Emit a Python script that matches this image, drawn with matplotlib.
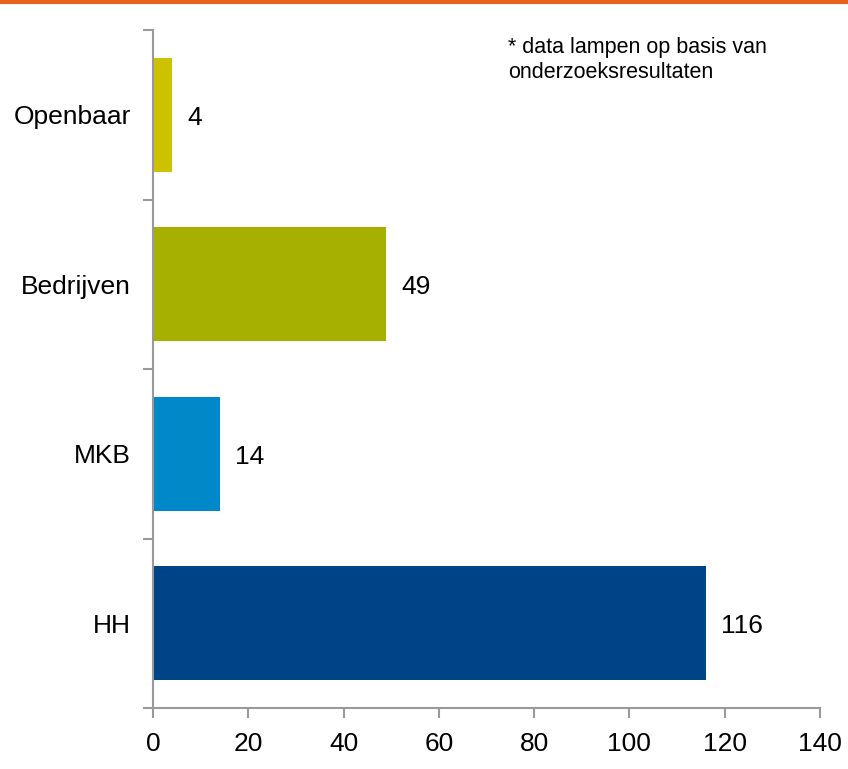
import matplotlib
matplotlib.use("Agg")
import matplotlib.pyplot as plt
from matplotlib.lines import Line2D

categories = ["HH", "MKB", "Bedrijven", "Openbaar"]
values = [116, 14, 49, 4]
colors = ["#004488", "#0088C8", "#A5B000", "#CCC200"]
xticks = [0, 20, 40, 60, 80, 100, 120, 140]

plt.rcParams['font.family'] = ['Liberation Sans', 'DejaVu Sans']
FS = 19

fig = plt.figure(figsize=(8.48, 7.69), dpi=100)
ax = fig.add_axes([153/848, 1-708/769, (820-153)/848, (708-30)/769])

ypos = list(range(len(categories)))
ax.barh(ypos, values, height=0.67, color=colors)
for y, v in zip(ypos, values):
    ax.annotate(str(v), (v, y), xytext=(11, -2), textcoords="offset points",
                va="center", ha="left", fontsize=FS)

ax.set_xlim(0, 140)
ax.set_ylim(-0.5, len(categories) - 0.5)
ax.set_xticks(xticks)
ax.set_xticklabels([str(t) for t in xticks], fontsize=FS)
ax.set_yticks([i - 0.5 for i in range(len(categories) + 1)])
ax.set_yticklabels([])
ax.set_yticks(ypos, minor=True)
ax.set_yticklabels(categories, minor=True, fontsize=FS)
ax.tick_params(axis='y', which='minor', length=0, pad=16)
ax.tick_params(axis='y', which='major', length=7, color="#999999", width=1.5)
ax.tick_params(axis='x', length=7, color="#999999", width=1.5, pad=10)

for s in ["top", "right"]:
    ax.spines[s].set_visible(False)
for s in ["left", "bottom"]:
    ax.spines[s].set_color("#999999")
    ax.spines[s].set_linewidth(1.5)
ax.spines["left"].set_bounds(-0.5, len(categories) - 0.5)

fig.text(508/848, 1-60/769, "* data lampen op basis van\nonderzoeksresultaten",
         fontsize=15.5, va="center", ha="left", linespacing=1.2)

fig.add_artist(Line2D([0, 1], [1 - 1.5/769, 1 - 1.5/769], color="#E8601C", lw=3,
                      transform=fig.transFigure))

fig.savefig("out.png", dpi=100)
